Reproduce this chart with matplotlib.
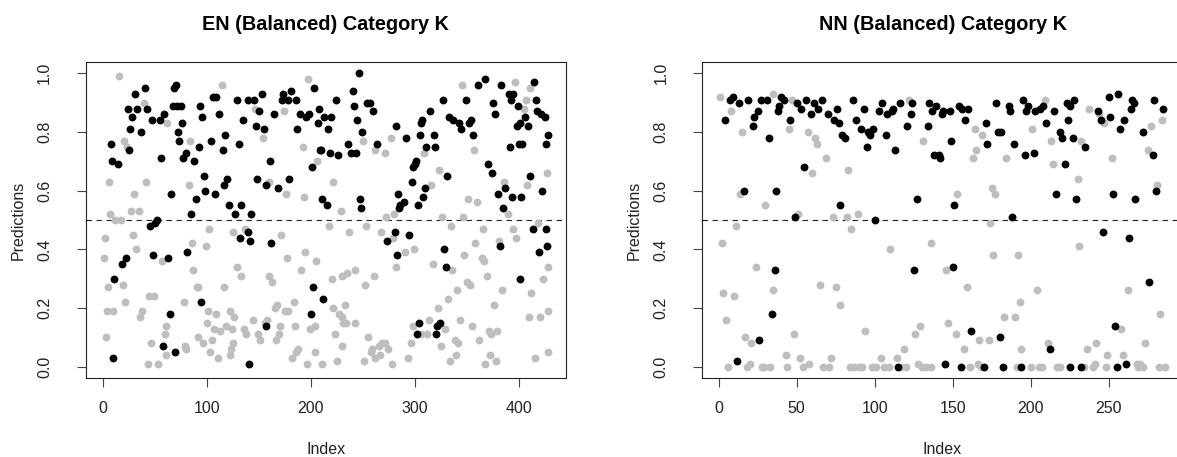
import matplotlib
matplotlib.use("Agg")
import matplotlib.pyplot as plt

plt.rcParams['font.family'] = ['Liberation Sans', 'DejaVu Sans']

# ── EN panel: index / prediction, black = correct class, grey = other ─────────
en_black_idx = [40, 68, 70, 31, 24, 33, 42, 67, 71, 75, 93, 28, 95, 47, 55, 59, 76, 26, 37, 72,
                8, 25, 73, 92, 77, 80, 88, 9, 14, 56, 97, 65, 98, 89, 85, 45, 50, 52, 48, 22,
                18, 63, 81, 11, 94, 64, 58, 69, 10,
                106, 109, 129, 139, 145, 153, 150, 173, 172, 178, 181, 186, 164, 189, 195, 198, 203, 208, 112, 135,
                147, 155, 187, 207, 117, 104, 115, 131, 209, 201, 161, 108, 119, 116, 148, 157, 168, 179, 121, 133,
                127, 142, 139, 132, 141, 162, 202, 200, 157, 140,
                246, 240, 224, 254, 257, 241, 260, 213, 219, 216, 244, 249, 263, 210, 218, 226, 236, 238, 243, 211,
                215, 247, 248, 281, 273, 294, 283, 284, 286, 289, 285, 297, 303, 310, 308, 298, 301, 300, 291, 282,
                305, 306, 314, 307, 311, 318, 319, 212, 304, 302,
                361, 367, 383, 414, 327, 349, 375, 377, 390, 394, 392, 399, 416, 417, 421, 425, 333, 337, 342, 344,
                354, 352, 406, 409, 398, 401, 356, 391, 400, 403, 426, 331, 370, 374, 380, 387, 393, 385, 402, 411,
                422, 413, 426, 419, 427, 382, 328, 330, 401, 324, 321, 320, 428]
en_black_val = [.95, .95, .96, .93, .88, .88, .88, .89, .89, .89, .89, .85, .85, .84, .84, .86, .83, .81, .80, .80,
                .76, .74, .77, .75, .71, .73, .70, .70, .69, .71, .65, .59, .60, .57, .52, .48, .49, .50, .38, .37,
                .35, .37, .39, .30, .22, .18, .07, .05, .03,
                .92, .92, .91, .91, .91, .93, .87, .93, .91, .91, .94, .91, .86, .86, .85, .86, .95, .88, .86, .84,
                .82, .81, .81, .83, .79, .77, .74, .76, .74, .68, .70, .59, .64, .62, .64, .62, .61, .64, .55, .55,
                .52, .52, .46, .44, .43, .42, .27, .18, .14, .01,
                1.0, .94, .91, .90, .90, .89, .87, .85, .85, .81, .84, .80, .76, .74, .73, .72, .76, .73, .73, .57,
                .55, .57, .54, .46, .43, .45, .38, .59, .55, .56, .54, .63, .55, .61, .58, .68, .70, .69, .78, .82,
                .79, .83, .87, .84, .75, .79, .75, .23, .15, .11,
                .96, .98, .96, .97, .91, .91, .90, .86, .93, .93, .91, .89, .91, .87, .86, .85, .85, .84, .83, .81,
                .84, .83, .85, .82, .82, .83, .79, .75, .76, .76, .76, .65, .69, .66, .59, .61, .58, .54, .58, .65,
                .60, .47, .47, .39, .41, .41, .40, .34, .30, .15, .14, .11, .79]

en_grey_idx = [15, 39, 62, 20, 23, 84, 6, 41, 83, 30, 7, 27, 35, 12, 17, 2, 29, 86, 99, 32,
               1, 57, 87, 5, 19, 90, 91, 44, 49, 21, 78, 4, 10, 38, 36, 61, 60, 3, 91, 96,
               46, 61, 79, 80, 43, 53,
               114, 146, 174, 154, 192, 206, 160, 176, 193, 102, 125, 137, 171, 177, 194, 205, 190, 129, 133, 160,
               163, 116, 101, 109, 100, 107, 113, 122, 126, 118, 124, 136, 138, 144, 105, 103, 111, 125, 123, 122,
               149, 151, 158, 156, 165, 167, 175, 170, 169, 166, 184, 178, 185, 199, 204, 188, 186, 182, 196, 204,
               197,
               250, 262, 271, 221, 229, 217, 237, 253, 267, 220, 230, 235, 242, 252, 261, 221, 227, 230, 233, 231,
               234, 242, 223, 230, 225, 211, 255, 259, 265, 268, 271, 274, 266, 258, 262, 251, 278, 279, 290, 299,
               282, 272, 280, 315, 277, 309, 313, 298, 296, 293, 306, 312,
               345, 396, 411, 407, 405, 357, 323, 386, 389, 408, 351, 360, 326, 335, 346, 365, 358, 381, 394, 397,
               418, 317, 347, 364, 366, 369, 336, 423, 350, 353, 340, 332, 322, 384, 376, 412, 428, 410, 420, 329,
               343, 355, 362, 371, 373, 379, 338, 341, 325, 334, 339, 367, 372, 378, 415, 428, 427, 428]
en_grey_val = [.99, .90, .83, .77, .75, .77, .63, .63, .62, .59, .52, .53, .53, .50, .50, .44, .45, .42, .41, .40,
               .37, .36, .33, .27, .28, .27, .27, .24, .24, .22, .22, .19, .19, .19, .17, .14, .11, .10, .10, .08,
               .08, .04, .07, .06, .01, .01,
               .96, .88, .87, .78, .75, .70, .63, .59, .58, .47, .46, .47, .45, .37, .39, .36, .33, .34, .31, .31,
               .29, .27, .19, .18, .15, .13, .12, .19, .17, .14, .13, .13, .11, .16, .09, .05, .03, .08, .06, .04,
               .11, .09, .16, .15, .20, .21, .19, .14, .11, .09, .22, .19, .14, .13, .14, .06, .05, .03, .01, .05,
               .98,
               .77, .74, .73, .63, .53, .48, .46, .48, .46, .30, .31, .32, .33, .28, .31, .20, .18, .17, .21, .15,
               .15, .15, .11, .07, .02, .01, .10, .06, .07, .08, .08, .06, .04, .05, .03, .02, .01, .44, .39, .40,
               .34, .51, .52, .62, .78, .73, .16, .14, .08, .03, .11, .11,
               .96, .97, .95, .91, .88, .74, .67, .63, .52, .62, .57, .56, .51, .48, .51, .47, .42, .43, .47, .44,
               .49, .35, .38, .37, .36, .31, .33, .30, .29, .28, .26, .23, .20, .26, .21, .25, .19, .17, .17, .13,
               .16, .14, .09, .12, .11, .12, .09, .08, .07, .02, .04, .01, .04, .02, .03, .05, .66, .34]

# ── NN panel ──────────────────────────────────────────────────────────────────
nn_black_idx = [7, 9, 13, 19, 4, 22, 23, 25, 27, 31, 32, 40, 42, 39, 38, 46, 50, 53, 56, 59,
                61, 64, 55, 16, 37, 49, 36, 34, 26, 12,
                66, 70, 74, 77, 76, 79, 81, 86, 88, 93, 91, 96, 97, 99, 95, 103, 105, 107, 108, 111,
                112, 116, 124, 123, 121, 113, 135, 137, 134, 138, 78, 100, 127, 125, 115,
                139, 143, 144, 148, 154, 156, 160, 158, 141, 142, 149, 171, 172, 178, 179, 181, 186, 187, 189, 195,
                198, 197, 203, 206, 208, 196, 202, 210, 151, 188, 150, 162, 180, 145, 155, 170, 182, 194,
                215, 223, 225, 228, 224, 219, 220, 227, 235, 222, 216, 229, 243, 245, 250, 256, 251, 260, 257, 265,
                266, 264, 253, 272, 279, 285, 278, 280, 267, 246, 263, 276, 254, 212, 225, 232, 255, 261]
nn_black_val = [.91, .92, .90, .91, .84, .82, .85, .87, .91, .91, .78, .92, .91, .89, .87, .84, .90, .88, .91, .86,
                .90, .88, .68, .60, .60, .51, .33, .18, .09, .02,
                .91, .86, .84, .83, .88, .79, .78, .91, .84, .88, .81, .80, .79, .81, .75, .87, .90, .79, .86, .87,
                .88, .90, .90, .86, .82, .74, .90, .87, .82, .72, .55, .50, .57, .33, .00,
                .89, .86, .87, .87, .89, .88, .88, .84, .72, .71, .77, .83, .76, .90, .80, .80, .89, .87, .76, .91,
                .89, .87, .87, .88, .89, .72, .73, .83, .55, .51, .34, .12, .10, .01, .00, .00, .00, .00,
                .87, .90, .89, .91, .84, .80, .78, .78, .75, .69, .59, .57, .87, .84, .92, .93, .85, .84, .81, .91,
                .90, .88, .59, .80, .91, .88, .72, .60, .57, .46, .44, .29, .14, .06, .00, .00, .00, .01]

nn_grey_idx = [1, 8, 15, 35, 47, 45, 57, 62, 63, 60, 14, 30, 51, 11, 2, 24, 65, 3, 10, 35,
               5, 17, 21, 48, 43, 52, 58, 54, 6, 18, 20, 28, 29, 33, 44,
               69, 131, 83, 73, 82, 89, 85, 110, 136, 75, 78, 94, 129, 126, 119, 72, 114, 104, 122, 67,
               71, 84, 87, 90, 92, 98, 101, 106, 109, 117, 120, 128, 130, 133, 136,
               164, 169, 165, 163, 184, 201, 209, 153, 175, 177, 174, 176, 192, 146, 159, 204, 193, 183, 190, 147,
               152, 157, 167, 173, 194, 161, 166, 168, 191, 200, 205, 207,
               213, 214, 230, 232, 237, 244, 247, 252, 277, 275, 284, 281, 231, 262, 283, 258, 211, 236, 242, 249,
               259, 273, 217, 219, 234, 240, 241, 248, 268, 270, 272, 282, 269, 286]
nn_grey_val = [.92, .87, .80, .93, .91, .81, .80, .78, .76, .66, .59, .55, .52, .48, .42, .34, .28, .25, .24, .26,
               .16, .10, .08, .11, .04, .03, .01, .00, .00, .00, .01, .00, .00, .00, .00,
               .71, .77, .67, .51, .51, .52, .47, .40, .42, .27, .21, .12, .14, .11, .06, .03, .03, .03, .91, .00,
               .00, .00, .00, .00, .00, .00, .00, .00, .00, .00, .00, .01, .00, .00, .00,
               .81, .79, .74, .71, .71, .81, .91, .59, .61, .59, .49, .38, .38, .33, .27, .26, .22, .17, .17, .15,
               .11, .06, .09, .09, .06, .00, .01, .00, .00, .00, .00, .00,
               .77, .69, .64, .77, .88, .86, .83, .71, .82, .74, .84, .62, .41, .26, .18, .13, .08, .06, .08, .04,
               .04, .08, .00, .00, .00, .00, .01, .00, .01, .01, .00, .00, .00, .00]

panels = [
    ("EN (Balanced) Category K", en_black_idx, en_black_val, en_grey_idx, en_grey_val,
     [0, 100, 200, 300, 400], (-16.3, 444.9)),
    ("NN (Balanced) Category K", nn_black_idx, nn_black_val, nn_grey_idx, nn_grey_val,
     [0, 50, 100, 150, 200, 250], (-10.44, 297.4)),
]

W, H = 1177, 457
fig = plt.figure(figsize=(W / 100, H / 100), dpi=100)

# plot regions in pixels (left, right); the right panel runs past the image edge
boxes = [(86, 565.7), (702.3, 1182.8)]
top_px, bot_px = 61.6, 378.4

for (title, bi, bv, gi, gv, xt, xl), (x0, x1) in zip(panels, boxes):
    ax = fig.add_axes([x0 / W, 1 - bot_px / H, (x1 - x0) / W, (bot_px - top_px) / H])
    ax.scatter(gi, gv, s=32, color='#BEBEBE', linewidths=0, zorder=2)
    ax.scatter(bi, bv, s=32, color='black', linewidths=0, zorder=3)
    ax.axhline(0.5, color='#222222', lw=0.8, ls=(0, (5, 4)), zorder=1)

    ax.set_xlim(*xl)
    ax.set_ylim(-0.04, 1.04)
    ax.set_xticks(xt)
    ax.set_yticks([0, 0.2, 0.4, 0.6, 0.8, 1.0])
    ax.set_yticklabels(['0.0', '0.2', '0.4', '0.6', '0.8', '1.0'])
    for sp in ax.spines.values():
        sp.set_linewidth(0.8)
        sp.set_color('#222222')
    ax.tick_params(direction='out', length=6.5, width=0.8, color='#444444',
                   labelsize=11.5, labelcolor='#222222')
    ax.tick_params(axis='x', pad=9.5)
    ax.tick_params(axis='y', pad=18)
    for lbl in ax.get_yticklabels():
        lbl.set_rotation(90)
        lbl.set_va('center')

    cx = (x0 + x1) / 2
    fig.text(cx / W, 1 - 29.5 / H, title, ha='center', va='baseline',
             fontsize=14.3, fontweight='bold', color='black')
    fig.text(cx / W, 1 - 449 / H, 'Index', ha='center', va='center',
             fontsize=11.5, color='#222222')
    fig.text((x0 - 68) / W, 1 - 220 / H, 'Predictions', ha='center', va='center',
             rotation=90, fontsize=11.5, color='#222222')

plt.savefig('out.png', dpi=100)
